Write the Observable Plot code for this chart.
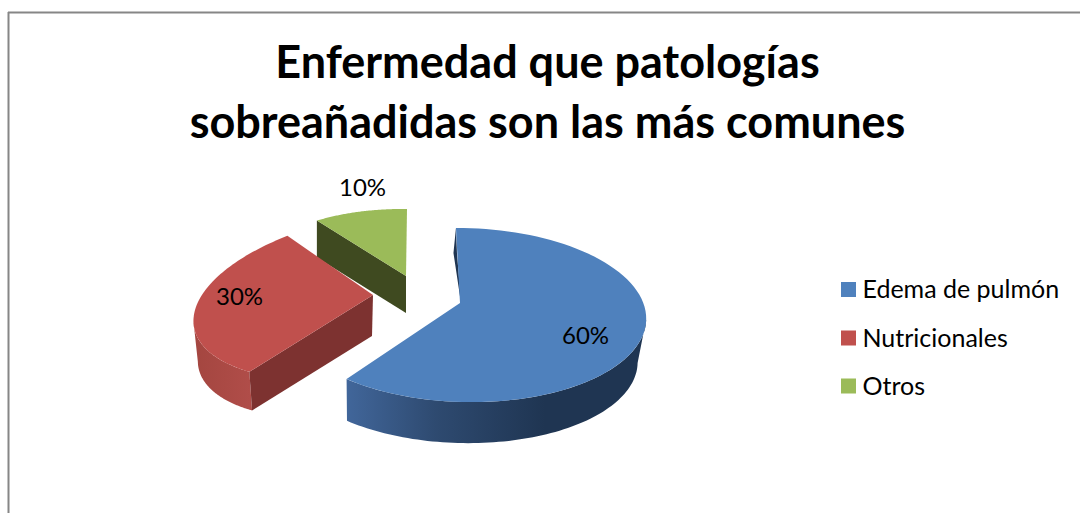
<!DOCTYPE html>
<html><head><meta charset="utf-8">
<script src="https://cdn.jsdelivr.net/npm/d3@7"></script>
<script src="https://cdn.jsdelivr.net/npm/@observablehq/plot@0.6"></script>
<style>html,body{margin:0;padding:0;background:#fff}svg{display:block}</style>
</head><body><div id="chart"></div>
<script>
const categories = ["Edema de pulmón", "Nutricionales", "Otros"];
const values = [60, 30, 10];
const colors = ["#4f81bd", "#c0504d", "#9bbb59"];
const titleLines = ["Enfermedad que patologías", "sobreañadidas son las más comunes"];

const W = 1080, H = 513;
const views = [
  {c:[460,303], s:[180,1],   u:[-4.6,-85.4], f:.138, e:-.02, d:[-3,44], k:.97, side:[100,216]},
  {c:[373,295], s:[178,-15], u:[23.5,-84],   f:0,    e:0,    d:[-1,41], k:.97, side:[216,262]},
  {c:[406,276], s:[153,2],   u:[1,-67],      f:0,    e:0,    d:[0,37],  k:1}
];
const labelAt = [[585,336],[239,297],[362,188]];
const rad = d => d*Math.PI/180;
const proj = (v,t) => {
  const w = 1 + v.f*Math.cos(t) + v.e*Math.sin(t);
  return [v.c[0] + (v.s[0]*Math.sin(t)+v.u[0]*Math.cos(t))/w,
          v.c[1] + (v.s[1]*Math.sin(t)+v.u[1]*Math.cos(t))/w];
};
const lower = (v,p) => [v.c[0]+v.d[0]+v.k*(p[0]-v.c[0]), v.c[1]+v.d[1]+v.k*(p[1]-v.c[1])];
const total = d3.sum(values);
const cum = d3.cumsum(values);
const angles = values.map((_,i)=>[(i?cum[i-1]:0)/total*2*Math.PI, cum[i]/total*2*Math.PI]);
const steps = (a,b,n=80)=>d3.range(n+1).map(i=>a+(b-a)*i/n);
const faces = values.flatMap((_,i)=>steps(...angles[i]).map(t=>{
  const p=proj(views[i],t);
  return {category:categories[i],x1:p[0],y1:p[1],x2:views[i].c[0],y2:views[i].c[1]};
}));
const sideRows = i => steps(rad(views[i].side[0]),rad(views[i].side[1])).map(t=>{
  const p=proj(views[i],t), q=lower(views[i],p);
  return {x1:p[0],y1:p[1],x2:q[0],y2:q[1]};
});
const wallRows = (i,t) => {
  const v=views[i], p=proj(v,t), q=lower(v,p), c=v.c, e=lower(v,c);
  return [{x1:p[0],y1:p[1],x2:q[0],y2:q[1]},{x1:c[0],y1:c[1],x2:e[0],y2:e[1]}];
};
const sliver = (() => {
  const v=views[0], p=proj(v,0);
  return [{x1:p[0],y1:p[1],x2:p[0],y2:p[1]},{x1:p[0]+1,y1:p[1]+25,x2:p[0]-2.5,y2:p[1]+25},{x1:v.c[0]+1,y1:v.c[1],x2:v.c[0]+1,y2:v.c[1]}];
})();
const band = {x1:"x1",y1:"y1",x2:"x2",y2:"y2"};
const gradient = (id,x1,x2,stops) => () => {
  const g = d3.create("svg:defs").append("linearGradient").attr("id",id)
    .attr("gradientUnits","userSpaceOnUse").attr("x1",x1).attr("x2",x2).attr("y1",0).attr("y2",0);
  stops.forEach(([o,c])=>g.append("stop").attr("offset",o).attr("stop-color",c));
  return g.node().parentNode;
};
const legendX = 841, legendBox = 15, legendY = [289.5,338,386];
const legendRows = categories.map((c,i)=>({category:c,y:legendY[i]}));
const font = "Lato, Carlito, sans-serif";

const plot = Plot.plot({
  width:W,height:H,margin:0,
  x:{type:"linear",domain:[0,W],range:[0,W],axis:null},
  y:{type:"linear",domain:[0,H],range:[0,H],axis:null},
  color:{type:"ordinal",domain:categories,range:colors},
  style:{background:"#fff",fontFamily:font},
  marks:[
    gradient("blueSide",347,545,[[0,"#41669a"],[.45,"#2e4a70"],[1,"#1f3552"]]),
    gradient("redSide",195,250,[[0,"#a44640"],[1,"#b04d49"]]),
    Plot.ruleY([12],{x1:8,x2:W,stroke:"#868686",strokeWidth:2}),
    Plot.ruleX([8],{y1:12,y2:H,stroke:"#868686",strokeWidth:2}),
    Plot.area(sideRows(0),{...band,fill:"url(#blueSide)"}),
    Plot.area(sliver,{...band,fill:"#1f3552"}),
    Plot.area(sideRows(1),{...band,fill:"url(#redSide)"}),
    Plot.area(wallRows(1,angles[1][0]),{...band,fill:"#7d3230"}),
    Plot.area(wallRows(2,angles[2][0]),{...band,fill:"#3f4a20"}),
    Plot.area(faces,{...band,fill:"category",z:"category"}),
    Plot.text(values,{x:(d,i)=>labelAt[i][0],y:(d,i)=>labelAt[i][1],text:d=>d+"%",fontSize:24,fill:"#000"}),
    Plot.text(titleLines,{x:W*0.5065,y:(d,i)=>63+i*60,text:d=>d,fontSize:45,fontWeight:700,fill:"#000"}),
    Plot.rect(legendRows,{x1:legendX,x2:legendX+legendBox,y1:d=>d.y-legendBox/2,y2:d=>d.y+legendBox/2,fill:"category"}),
    Plot.text(legendRows,{x:legendX+21,y:"y",text:"category",textAnchor:"start",fontSize:25,fill:"#000"})
  ]
});
document.getElementById("chart").append(plot);
</script></body></html>
